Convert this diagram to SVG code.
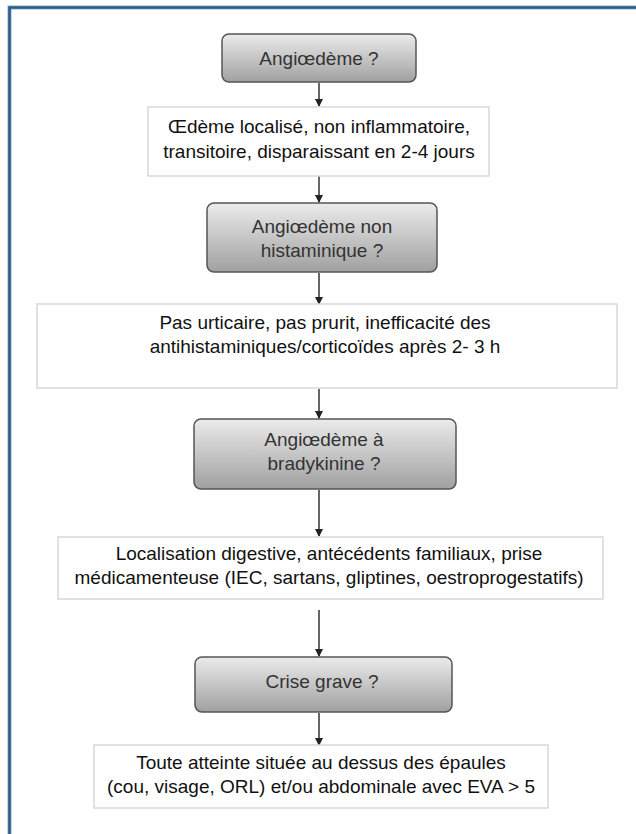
<svg xmlns="http://www.w3.org/2000/svg" width="636" height="834" viewBox="0 0 636 834">
<style>
.q{fill:url(#g);stroke:#555;stroke-width:1.5}
.w{fill:#fff;stroke:#d8d8d8;stroke-width:1.5}
.t{font-family:"Liberation Sans",Arial,sans-serif;font-size:19px;text-anchor:middle;fill:#111}
.tq{font-family:"Liberation Sans",Arial,sans-serif;font-size:19px;text-anchor:middle;fill:#333}
.c{stroke:#333;stroke-width:1.5;fill:none;marker-end:url(#a)}
</style>
<defs>
<linearGradient id="g" x1="0" y1="0" x2="0" y2="1">
<stop offset="0" stop-color="#ebebeb"/>
<stop offset="1" stop-color="#a0a0a0"/>
</linearGradient>
<marker id="a" markerWidth="8" markerHeight="8" refX="7" refY="4" orient="auto" markerUnits="userSpaceOnUse">
<path d="M0,0 L8,4 L0,8 Z" fill="#222"/>
</marker>
</defs>
<rect width="636" height="834" fill="#fff"/>
<path d="M9.5,834 V7.5 H636" fill="none" stroke="#8fb0cc" stroke-width="4"/>
<path d="M9.5,834 V7.5 H636" fill="none" stroke="#2b5d87" stroke-width="2.5"/>
<g id="connectors">
<line class="c" x1="319" y1="83" x2="319" y2="106"/>
<line class="c" x1="319" y1="176" x2="319" y2="202"/>
<line class="c" x1="319" y1="273" x2="319" y2="304"/>
<line class="c" x1="319" y1="389" x2="319" y2="418"/>
<line class="c" x1="319" y1="490" x2="319" y2="536"/>
<line class="c" x1="319" y1="610" x2="319" y2="656"/>
<line class="c" x1="319" y1="713" x2="319" y2="745"/>
</g>
<g id="n1"><rect class="q" x="222" y="34" width="194" height="48" rx="7"/><text class="tq" x="319" y="65">Angiœdème ?</text></g>
<g id="n2"><rect class="w" x="148" y="107" width="341" height="69"/><text class="t" x="319" y="133">Œdème localisé, non inflammatoire,</text><text class="t" x="319" y="158">transitoire, disparaissant en 2-4 jours</text></g>
<g id="n3"><rect class="q" x="207" y="203" width="230" height="69" rx="7"/><text class="tq" x="322" y="233">Angiœdème non</text><text class="tq" x="322" y="257">histaminique ?</text></g>
<g id="n4"><rect class="w" x="37" y="304" width="580" height="84"/><text class="t" x="325" y="329">Pas urticaire, pas prurit, inefficacité des</text><text class="t" x="325" y="353">antihistaminiques/corticoïdes après 2- 3 h</text></g>
<g id="n5"><rect class="q" x="194" y="419" width="262" height="70" rx="7"/><text class="tq" x="324" y="446">Angiœdème à</text><text class="tq" x="324" y="470">bradykinine ?</text></g>
<g id="n6"><rect class="w" x="58" y="537" width="545" height="62"/><text class="t" x="329" y="560">Localisation digestive, antécédents familiaux, prise</text><text class="t" x="329" y="584">médicamenteuse (IEC, sartans, gliptines, oestroprogestatifs)</text></g>
<g id="n7"><rect class="q" x="195" y="657" width="257" height="55" rx="7"/><text class="tq" x="322" y="688">Crise grave ?</text></g>
<g id="n8"><rect class="w" x="94" y="745" width="454" height="63"/><text class="t" x="321" y="769">Toute atteinte située au dessus des épaules</text><text class="t" x="321" y="793">(cou, visage, ORL) et/ou abdominale avec EVA &gt; 5</text></g>
</svg>
